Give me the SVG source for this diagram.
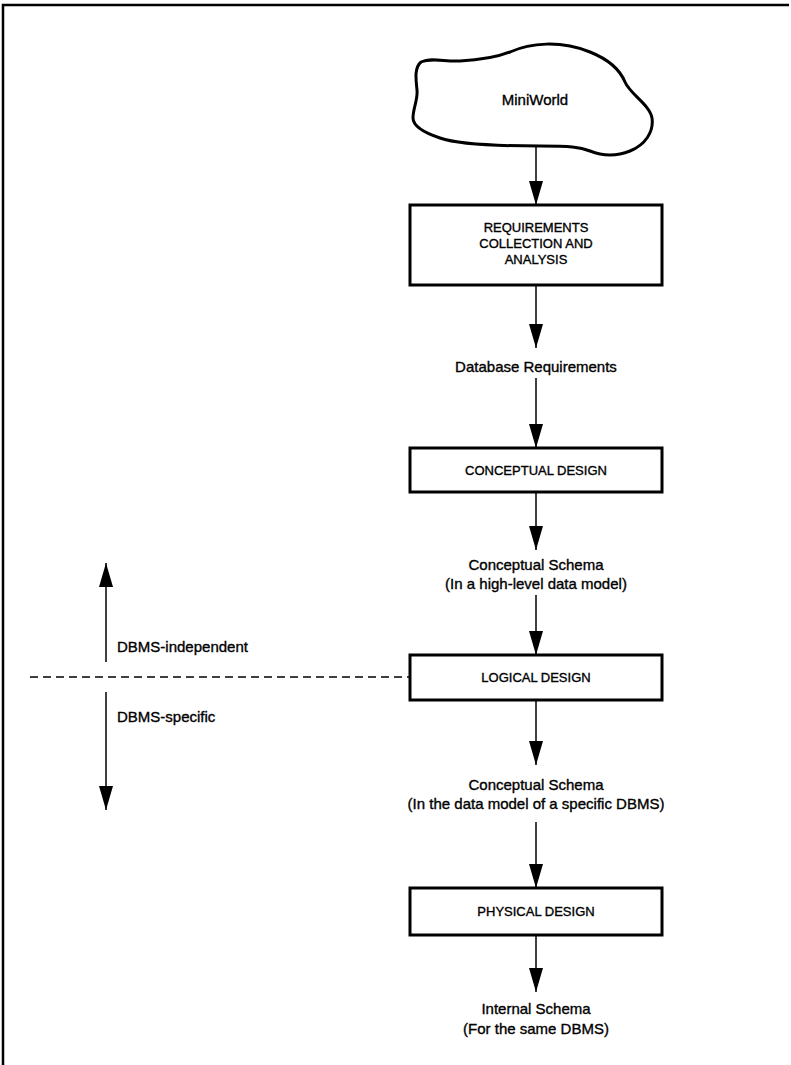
<svg xmlns="http://www.w3.org/2000/svg" width="791" height="1065" viewBox="0 0 791 1065">
<style>
text{font-family:"Liberation Sans",Arial,sans-serif;fill:#000;stroke:#000;stroke-width:0.35;text-anchor:middle}
.lbl{font-size:15px}
.box{font-size:13px}
.side{text-anchor:start}
.node rect{fill:#fff;stroke:#000;stroke-width:3}
.conn line{stroke:#000;stroke-width:1.5}
</style>
<defs>
<marker id="ah" markerUnits="userSpaceOnUse" markerWidth="24" markerHeight="16" refX="24" refY="8" orient="auto">
<path d="M0,1 L24,8 L0,15 Z" fill="#000"/>
</marker>
</defs>
<rect width="791" height="1065" fill="#fff"/>
<g id="frame" fill="none" stroke="#000" stroke-width="2.5">
<path d="M3,1065 L3,5 L789,5"/>
</g>
<g id="miniworld" class="node">
<path d="M421,62 C432,57 445,62 460,61 C480,60 495,58 510,52 C530,43 560,40 590,52 C610,60 620,70 625,82 C630,94 650,105 652,118 C654,132 645,145 630,151 C615,157 600,155 590,151 C580,147 570,146 540,146 C500,146 460,145 440,138 C425,133 413,126 413,118 C413,108 418,100 417,90 C416,80 414,68 421,62 Z" fill="#fff" stroke="#000" stroke-width="3"/>
<text class="lbl" x="535" y="105">MiniWorld</text>
</g>
<g id="req" class="node">
<rect x="410" y="205" width="252" height="80"/>
<text class="box" x="536" y="232">REQUIREMENTS</text>
<text class="box" x="536" y="248">COLLECTION AND</text>
<text class="box" x="536" y="264">ANALYSIS</text>
</g>
<g id="dbreq" class="node">
<text class="lbl" x="536" y="372">Database Requirements</text>
</g>
<g id="concdesign" class="node">
<rect x="410" y="448" width="252" height="44"/>
<text class="box" x="536" y="475">CONCEPTUAL DESIGN</text>
</g>
<g id="concschema" class="node">
<text class="lbl" x="536" y="570">Conceptual Schema</text>
<text class="lbl" x="536" y="589">(In a high-level data model)</text>
</g>
<g id="logdesign" class="node">
<rect x="410" y="655" width="252" height="45"/>
<text class="box" x="536" y="682">LOGICAL DESIGN</text>
</g>
<g id="dbmsschema" class="node">
<text class="lbl" x="536" y="790">Conceptual Schema</text>
<text class="lbl" x="536" y="809">(In the data model of a specific DBMS)</text>
</g>
<g id="physdesign" class="node">
<rect x="410" y="888" width="252" height="47"/>
<text class="box" x="536" y="916">PHYSICAL DESIGN</text>
</g>
<g id="internal" class="node">
<text class="lbl" x="536" y="1014">Internal Schema</text>
<text class="lbl" x="536" y="1034">(For the same DBMS)</text>
</g>
<g id="indep" class="node">
<text class="lbl side" x="117" y="652">DBMS-independent</text>
</g>
<g id="spec" class="node">
<text class="lbl side" x="117" y="722">DBMS-specific</text>
</g>
<g id="connectors" class="conn">
<line x1="536" y1="146" x2="536" y2="205" marker-end="url(#ah)"/>
<line x1="536" y1="285" x2="536" y2="348" marker-end="url(#ah)"/>
<line x1="536" y1="378" x2="536" y2="448" marker-end="url(#ah)"/>
<line x1="536" y1="492" x2="536" y2="550" marker-end="url(#ah)"/>
<line x1="536" y1="595" x2="536" y2="655" marker-end="url(#ah)"/>
<line x1="536" y1="700" x2="536" y2="765" marker-end="url(#ah)"/>
<line x1="536" y1="822" x2="536" y2="888" marker-end="url(#ah)"/>
<line x1="536" y1="935" x2="536" y2="992" marker-end="url(#ah)"/>
<line x1="106" y1="662" x2="106" y2="563" marker-end="url(#ah)"/>
<line x1="106" y1="692" x2="106" y2="810" marker-end="url(#ah)"/>
<line x1="30" y1="677" x2="410" y2="677" stroke-dasharray="8,5"/>
</g>
</svg>
